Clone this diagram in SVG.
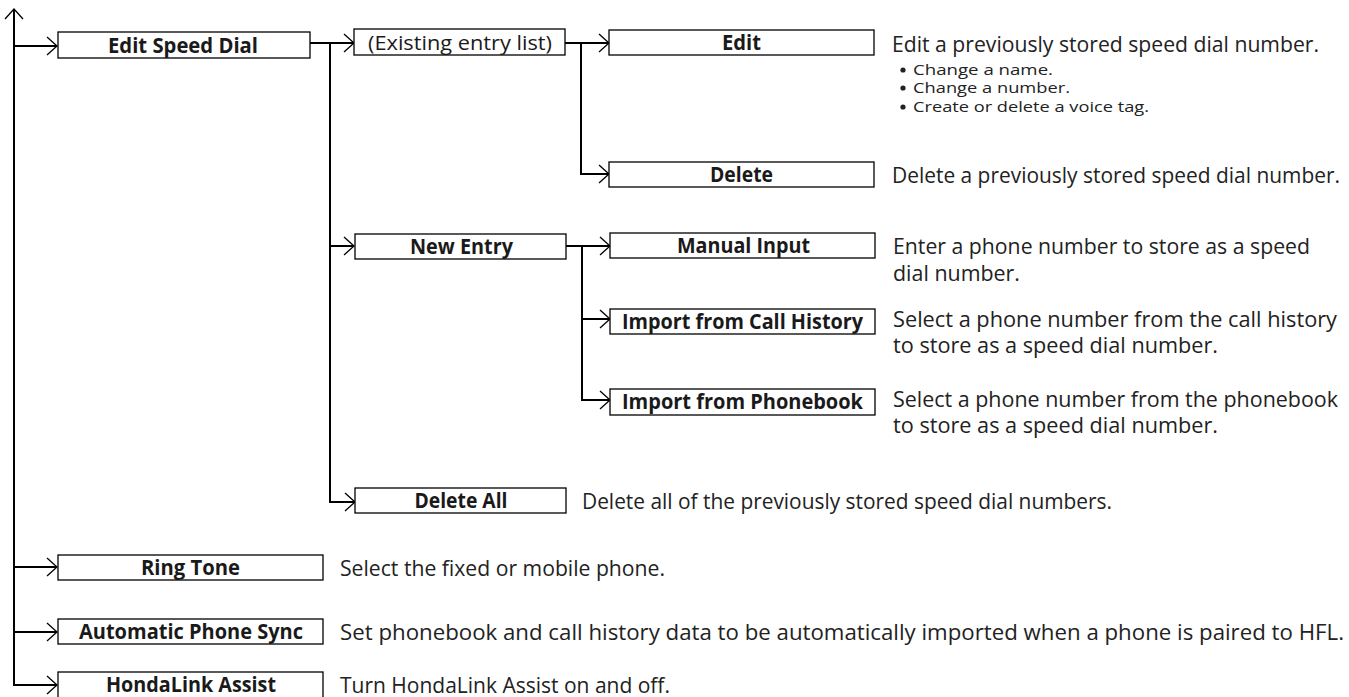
<svg xmlns="http://www.w3.org/2000/svg" width="1349" height="697" viewBox="0 0 1349 697">
<defs>
<style>
.box{fill:#fff;stroke:#000;stroke-width:1.3}
.lbl{font-family:"Open Sans","Noto Sans",sans-serif;font-weight:bold;font-size:21px;fill:#1a1a1a;text-anchor:middle}
.lblr{font-family:"Open Sans","Noto Sans",sans-serif;font-size:20px;fill:#1a1a1a;text-anchor:middle}
.desc{font-family:"Open Sans","Noto Sans",sans-serif;font-size:22px;fill:#222}
.bul{font-family:"Open Sans","Noto Sans",sans-serif;font-size:14px;fill:#222}
.dot{fill:#222}
.ln{fill:none;stroke:#000;stroke-width:2}
.hd{fill:none;stroke:#000;stroke-width:1.3}
</style>
</defs>
<rect width="1349" height="697" fill="#fff"/>
<g id="connectors">
<path class="ln" d="M14 10 V685 H57"/>
<path class="ln" d="M14 46 H57 M14 567 H57 M14 632 H57"/>
<path class="hd" d="M5 19 L14 9 L23 19"/>
<path class="hd" d="M47 37 L57 46 L47 55 M47 558 L57 567 L47 576 M47 623 L57 632 L47 641 M47 676 L57 685 L47 694"/>
<path class="ln" d="M310 43 H353 M330 43 V502 H354 M330 246 H354"/>
<path class="hd" d="M344 34 L354 43 L344 52 M344 237 L354 246 L344 255 M345 493 L355 502 L345 511"/>
<path class="ln" d="M565 43 H608 M581 43 V174 H608"/>
<path class="hd" d="M599 34 L609 43 L599 52 M599 165 L609 174 L599 183"/>
<path class="ln" d="M566 246 H609 M582 246 V400 H609 M582 319 H609"/>
<path class="hd" d="M600 237 L610 246 L600 255 M600 310 L610 319 L600 328 M600 391 L610 400 L600 409"/>
</g>
<g id="n-edit-speed-dial"><rect class="box" x="58" y="32" width="252" height="26"/><text class="lbl" x="183" y="53" textLength="150" lengthAdjust="spacingAndGlyphs">Edit Speed Dial</text></g>
<g id="n-existing"><rect class="box" x="354" y="29" width="211" height="26"/><text class="lblr" x="460" y="50" textLength="184" lengthAdjust="spacingAndGlyphs">(Existing entry list)</text></g>
<g id="n-edit"><rect class="box" x="609" y="30" width="265" height="25"/><text class="lbl" x="741.5" y="50" textLength="39" lengthAdjust="spacingAndGlyphs">Edit</text></g>
<g id="d-edit">
<text class="desc" x="892" y="52" textLength="427" lengthAdjust="spacingAndGlyphs">Edit a previously stored speed dial number.</text>
<circle class="dot" cx="903" cy="70" r="2.6"/>
<circle class="dot" cx="903" cy="88" r="2.6"/>
<circle class="dot" cx="903" cy="107" r="2.6"/>
<text class="bul"><tspan x="913" y="75" textLength="140" lengthAdjust="spacingAndGlyphs">Change a name.</tspan><tspan x="913" y="93" textLength="157" lengthAdjust="spacingAndGlyphs">Change a number.</tspan><tspan x="913" y="112" textLength="236" lengthAdjust="spacingAndGlyphs">Create or delete a voice tag.</tspan></text>
</g>
<g id="n-delete"><rect class="box" x="609" y="162" width="265" height="25"/><text class="lbl" x="741.5" y="182" textLength="63" lengthAdjust="spacingAndGlyphs">Delete</text></g>
<g id="d-delete"><text class="desc" x="892" y="183" style="font-size:21px" textLength="448" lengthAdjust="spacingAndGlyphs">Delete a previously stored speed dial number.</text></g>
<g id="n-new-entry"><rect class="box" x="355" y="234" width="211" height="25"/><text class="lbl" x="461.5" y="254" textLength="103" lengthAdjust="spacingAndGlyphs">New Entry</text></g>
<g id="n-manual"><rect class="box" x="610" y="233" width="265" height="25"/><text class="lbl" x="743.5" y="253" textLength="133" lengthAdjust="spacingAndGlyphs">Manual Input</text></g>
<g id="d-manual"><text class="desc"><tspan x="893" y="254" textLength="417" lengthAdjust="spacingAndGlyphs">Enter a phone number to store as a speed</tspan><tspan x="893" y="281" textLength="127" lengthAdjust="spacingAndGlyphs">dial number.</tspan></text></g>
<g id="n-call-history"><rect class="box" x="610" y="309" width="265" height="25"/><text class="lbl" x="742.5" y="329" textLength="241" lengthAdjust="spacingAndGlyphs">Import from Call History</text></g>
<g id="d-call-history"><text class="desc"><tspan x="893" y="327" textLength="444" lengthAdjust="spacingAndGlyphs">Select a phone number from the call history</tspan><tspan x="893" y="353" textLength="325" lengthAdjust="spacingAndGlyphs">to store as a speed dial number.</tspan></text></g>
<g id="n-phonebook"><rect class="box" x="610" y="389" width="265" height="26"/><text class="lbl" x="742.5" y="409" textLength="241" lengthAdjust="spacingAndGlyphs">Import from Phonebook</text></g>
<g id="d-phonebook"><text class="desc"><tspan x="893" y="407" textLength="445" lengthAdjust="spacingAndGlyphs">Select a phone number from the phonebook</tspan><tspan x="893" y="433" textLength="325" lengthAdjust="spacingAndGlyphs">to store as a speed dial number.</tspan></text></g>
<g id="n-delete-all"><rect class="box" x="355" y="488" width="211" height="25"/><text class="lbl" x="461" y="508" textLength="93" lengthAdjust="spacingAndGlyphs">Delete All</text></g>
<g id="d-delete-all"><text class="desc" x="582" y="509" textLength="530" lengthAdjust="spacingAndGlyphs">Delete all of the previously stored speed dial numbers.</text></g>
<g id="n-ring-tone"><rect class="box" x="58" y="555" width="265" height="25"/><text class="lbl" x="190.5" y="575" textLength="99" lengthAdjust="spacingAndGlyphs">Ring Tone</text></g>
<g id="d-ring-tone"><text class="desc" x="340" y="576" textLength="325" lengthAdjust="spacingAndGlyphs">Select the fixed or mobile phone.</text></g>
<g id="n-aps"><rect class="box" x="58" y="619" width="265" height="25"/><text class="lbl" x="191" y="639" textLength="224" lengthAdjust="spacingAndGlyphs">Automatic Phone Sync</text></g>
<g id="d-aps"><text class="desc" x="340" y="640" textLength="1004" lengthAdjust="spacingAndGlyphs">Set phonebook and call history data to be automatically imported when a phone is paired to HFL.</text></g>
<g id="n-hondalink"><rect class="box" x="58" y="672" width="265" height="27"/><text class="lbl" x="191" y="692" textLength="170" lengthAdjust="spacingAndGlyphs">HondaLink Assist</text></g>
<g id="d-hondalink"><text class="desc" x="340" y="693" textLength="330" lengthAdjust="spacingAndGlyphs">Turn HondaLink Assist on and off.</text></g>
</svg>
